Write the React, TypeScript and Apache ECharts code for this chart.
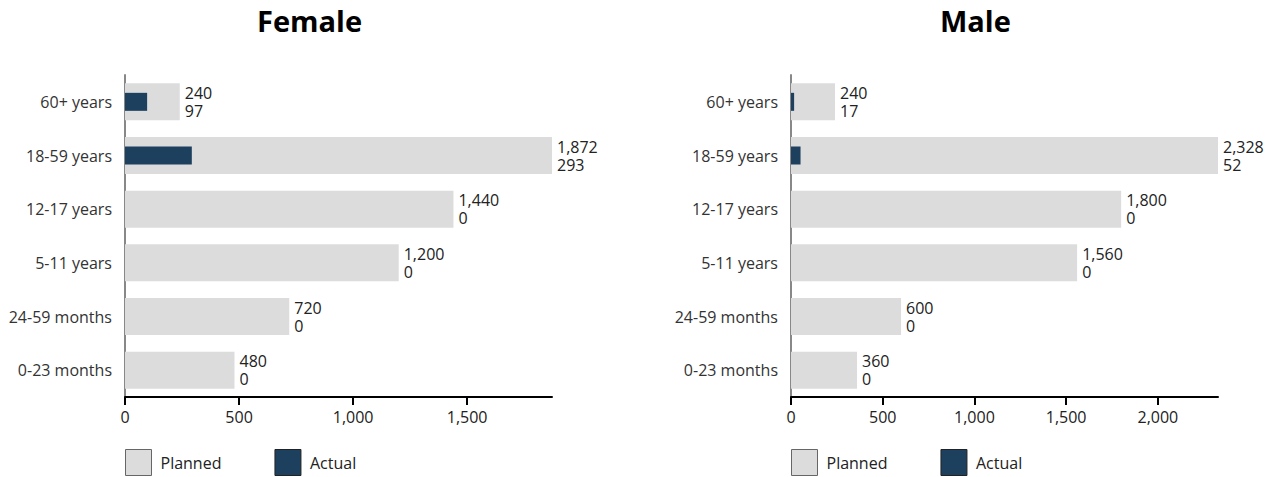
import React, { useEffect, useRef } from "react";
import * as echarts from "echarts";

const categories = ["0-23 months", "24-59 months", "5-11 years", "12-17 years", "18-59 years", "60+ years"];
const femalePlanned = [480, 720, 1200, 1440, 1872, 240];
const femaleActual = [0, 0, 0, 0, 293, 97];
const malePlanned = [360, 600, 1560, 1800, 2328, 240];
const maleActual = [0, 0, 0, 0, 52, 17];
const femaleTicks = [0, 500, 1000, 1500];
const maleTicks = [0, 500, 1000, 1500, 2000];

const FONT = "'Open Sans', 'Noto Sans', sans-serif";
const PLANNED = "#dcdcdc";
const ACTUAL = "#1d405f";
const fmt = (v: number) => v.toLocaleString("en-US");

export default function App() {
  const ref = useRef<HTMLDivElement>(null);
  useEffect(() => {
    const chart = echarts.init(ref.current!, null, { renderer: "svg" });
    const grids = [
      { left: 125, width: 427, top: 75, height: 322 },
      { left: 791, width: 427, top: 75, height: 322 },
    ];
    const maxes = [Math.max(...femalePlanned), Math.max(...malePlanned)];
    const ticks = [femaleTicks, maleTicks];
    const xAxis = [0, 1].map((i) => ({
      type: "value",
      gridIndex: i,
      min: 0,
      max: maxes[i],
      interval: 500,
      splitLine: { show: false },
      axisLine: { show: true, lineStyle: { color: "#000", width: 2 } },
      axisTick: { show: true, length: 8, lineStyle: { color: "#000", width: 2 } },
      axisLabel: {
        fontFamily: FONT,
        fontSize: 16,
        color: "#222",
        margin: 12,
        showMaxLabel: false,
        formatter: (v: number) => (ticks[i].includes(v) ? fmt(v) : ""),
      },
    }));
    const yAxis: any[] = [];
    [0, 1].forEach((i) => {
      yAxis.push({
        type: "category",
        gridIndex: i,
        data: categories,
        axisLine: { show: true, lineStyle: { color: "#888", width: 2 } },
        axisTick: { show: false },
        axisLabel: { fontFamily: FONT, fontSize: 16, color: "#333", margin: 13 },
      });
      yAxis.push({
        type: "category",
        gridIndex: i,
        data: categories,
        show: false,
      });
    });
    const planned = [femalePlanned, malePlanned];
    const actual = [femaleActual, maleActual];
    const series: any[] = [];
    [0, 1].forEach((i) => {
      series.push({
        name: "Planned",
        type: "bar",
        xAxisIndex: i,
        yAxisIndex: i * 2,
        data: planned[i],
        barWidth: 37,
        itemStyle: { color: PLANNED },
        label: {
          show: true,
          position: "right",
          distance: 5,
          fontFamily: FONT,
          fontSize: 16,
          lineHeight: 18,
          color: "#222",
          formatter: (p: any) => fmt(planned[i][p.dataIndex]) + "\n" + fmt(actual[i][p.dataIndex]),
        },
      });
      series.push({
        name: "Actual",
        type: "bar",
        xAxisIndex: i,
        yAxisIndex: i * 2 + 1,
        data: actual[i],
        barWidth: 18,
        itemStyle: { color: ACTUAL },
        z: 3,
      });
    });
    const legendData = [
      { name: "Planned", itemStyle: { color: PLANNED, borderColor: "#666", borderWidth: 1 } },
      { name: "Actual", itemStyle: { color: ACTUAL, borderColor: "#222", borderWidth: 1 } },
    ];
    const legend = [125, 791].map((left) => ({
      left,
      top: 449,
      padding: 0,
      itemWidth: 26,
      itemHeight: 26,
      itemGap: 53,
      icon: "rect",
      selectedMode: false,
      data: legendData,
      textStyle: { fontFamily: FONT, fontSize: 16, color: "#222", padding: [0, 0, 0, 4] },
    }));
    const titleStyle = { fontFamily: FONT, fontSize: 29, fontWeight: "bold", color: "#000" };
    chart.setOption({
      animation: false,
      backgroundColor: "#fff",
      title: [
        { text: "Female", left: 257, top: 6, padding: 0, textStyle: titleStyle },
        { text: "Male", left: 940, top: 6, padding: 0, textStyle: titleStyle },
      ],
      legend,
      grid: grids,
      xAxis,
      yAxis,
      series,
    });
    return () => chart.dispose();
  }, []);
  return <div ref={ref} style={{ position: "fixed", left: 0, top: 0, width: 1274, height: 477 }} />;
}
